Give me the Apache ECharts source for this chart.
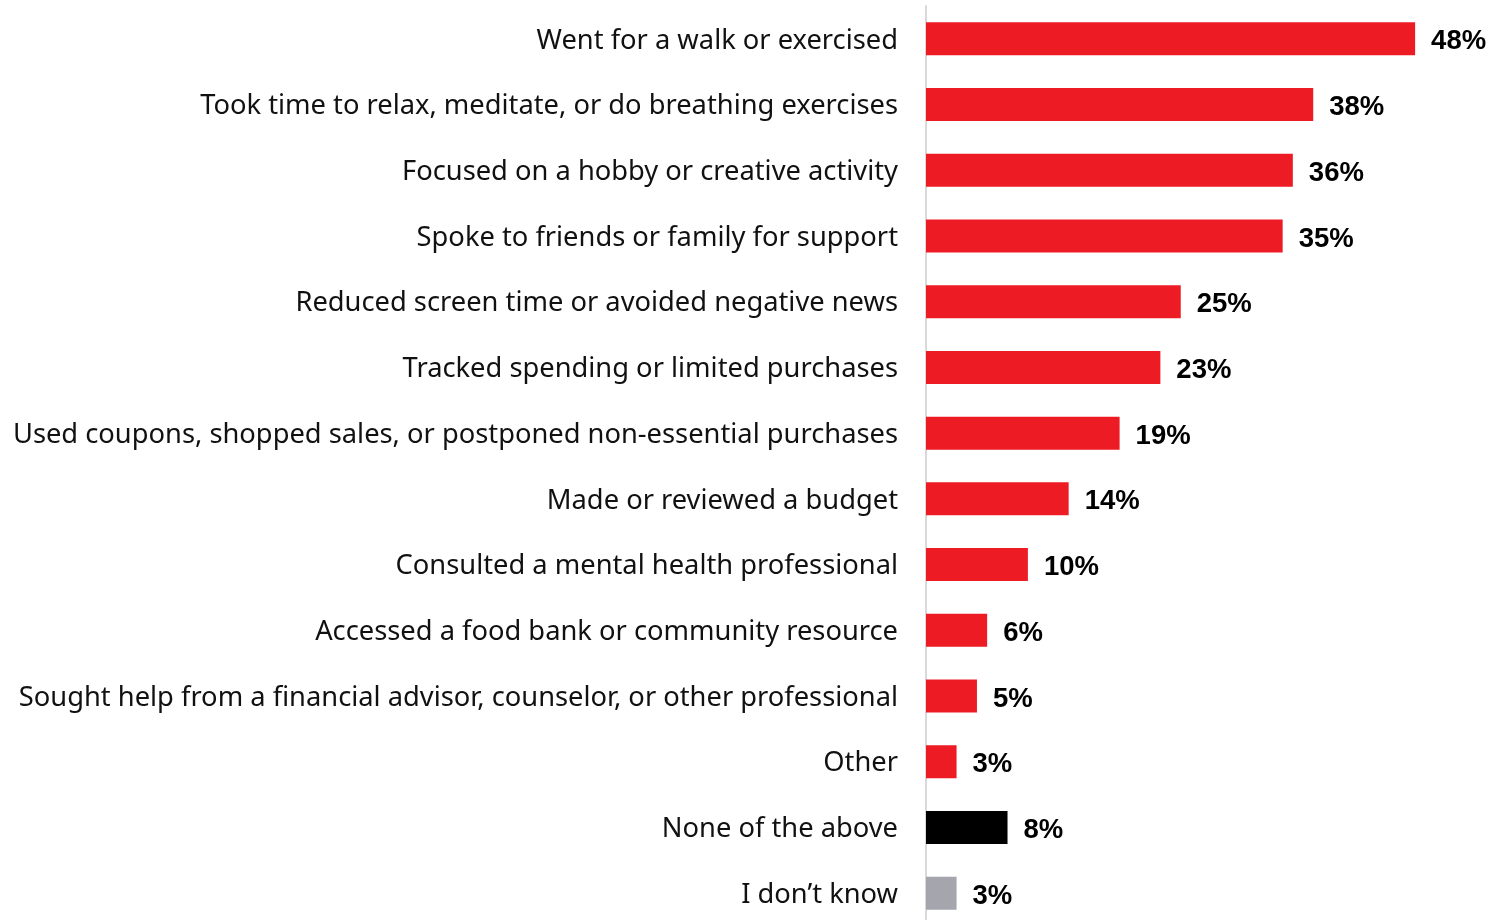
<!DOCTYPE html>
<html>
<head>
<meta charset="utf-8">
<script src="https://cdn.jsdelivr.net/npm/echarts@6/dist/echarts.min.js"></script>
<style>
  html, body { margin: 0; padding: 0; background: #fff; overflow: hidden; }
  #chart { width: 1491px; height: 926px; }
</style>
</head>
<body>
<div id="chart"></div>
<script>
// Coping actions, listed top to bottom
const categories = [
  'Went for a walk or exercised',
  'Took time to relax, meditate, or do breathing exercises',
  'Focused on a hobby or creative activity',
  'Spoke to friends or family for support',
  'Reduced screen time or avoided negative news',
  'Tracked spending or limited purchases',
  'Used coupons, shopped sales, or postponed non-essential purchases',
  'Made or reviewed a budget',
  'Consulted a mental health professional',
  'Accessed a food bank or community resource',
  'Sought help from a financial advisor, counselor, or other professional',
  'Other',
  'None of the above',
  'I don\u2019t know'
];
const values = [48, 38, 36, 35, 25, 23, 19, 14, 10, 6, 5, 3, 8, 3];
const barColors = ['#ED1C24', '#ED1C24', '#ED1C24', '#ED1C24', '#ED1C24', '#ED1C24', '#ED1C24',
  '#ED1C24', '#ED1C24', '#ED1C24', '#ED1C24', '#ED1C24', '#000000', '#A5A5AD'];

const chart = echarts.init(document.getElementById('chart'), null, { renderer: 'canvas' });
chart.setOption({
  animation: false,
  grid: { left: 926, top: 6, width: 509.5, height: 920, containLabel: false },
  xAxis: {
    type: 'value', min: 0, max: 50,
    show: false
  },
  yAxis: {
    type: 'category',
    inverse: true,
    data: categories,
    axisLine: { show: true, lineStyle: { color: '#D9D9D9', width: 2 } },
    axisTick: { show: false },
    axisLabel: {
      margin: 28,
      formatter: (v) => '{t|' + v + '}',
      rich: {
        t: {
          color: '#111111',
          fontFamily: 'Noto Sans',
          fontSize: 27.3,
          padding: [4, 0, 0, 0]
        }
      }
    }
  },
  series: [{
    type: 'bar',
    data: values.map((v, i) => ({ value: v, itemStyle: { color: barColors[i] } })),
    barWidth: 33,
    label: {
      show: true,
      position: 'right',
      distance: 16,
      offset: [0, 3],
      formatter: '{c}%',
      color: '#000',
      fontFamily: 'Liberation Sans',
      fontWeight: 'bold',
      fontSize: 27.5
    }
  }]
});
</script>
</body>
</html>
